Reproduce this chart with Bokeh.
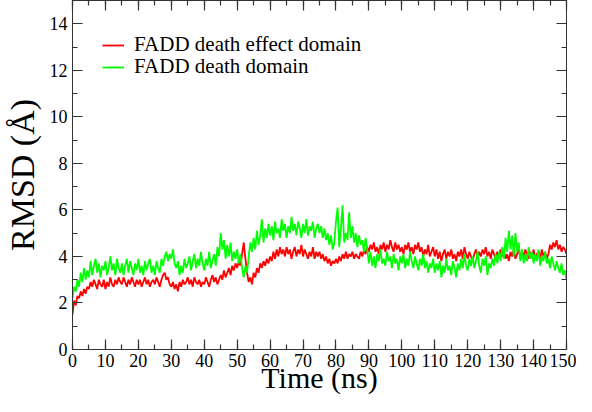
from bokeh.plotting import figure
from bokeh.models import LinearAxis, SingleIntervalTicker, Legend, LegendItem
from bokeh.embed import file_html
from bokeh.resources import INLINE

# Sampling step of the trajectory (ns); 301 frames from 0 to 150 ns
step_ns = 0.5

# FADD death effect domain (red), one row = 5 ns
rmsd_ded = [
    1.5, 2.1, 1.9, 2.3, 2.2, 2.5, 2.3, 2.6, 2.4, 2.7,
    2.6, 2.9, 2.7, 3.0, 2.8, 2.6, 3.0, 2.8, 2.7, 3.0,
    2.6, 2.9, 2.7, 3.1, 2.8, 2.7, 3.0, 2.8, 3.1, 2.9,
    2.8, 3.1, 2.9, 2.7, 3.0, 2.8, 3.1, 2.9, 2.7, 3.0,
    2.8, 3.0, 2.7, 2.9, 3.1, 2.8, 3.0, 2.7, 2.9, 3.0,
    2.8, 3.1, 2.9, 2.7, 3.0, 3.2, 3.3, 3.0, 3.1, 2.8,
    2.7, 2.9, 2.6, 2.8, 2.5, 2.9, 2.7, 3.0, 2.8, 2.9,
    3.1, 2.8, 3.0, 2.7, 3.1, 2.9, 2.8, 3.0, 2.7, 2.9,
    2.8, 3.1, 2.9, 2.7, 3.0, 3.2, 2.9, 3.1, 2.8, 3.0,
    3.2, 3.0, 3.4, 3.1, 3.3, 3.5, 3.2, 3.6, 3.4, 3.7,
    3.5, 3.8, 3.6, 4.1, 4.6, 3.9, 3.3, 2.9, 3.1, 2.8,
    3.3, 3.1, 3.5, 3.3, 3.7, 3.5, 3.8, 3.6, 3.9, 3.7,
    4.0, 3.8, 4.2, 3.9, 4.3, 4.0, 4.4, 4.1, 4.3, 4.0,
    4.4, 4.1, 4.3, 3.9, 4.2, 4.4, 4.0, 4.3, 4.1, 4.5,
    4.0, 4.3, 4.1, 3.9, 4.2, 4.0, 4.4, 3.9, 4.2, 4.0,
    4.2, 3.9, 4.1, 3.8, 4.0, 3.7, 3.9, 3.6, 3.8, 3.7,
    3.9, 3.7, 4.0, 3.8, 4.1, 3.9, 4.2, 3.9, 4.1, 4.0,
    4.2, 3.9, 4.1, 4.0, 3.9, 4.2, 4.0, 4.3, 4.1, 4.4,
    4.2, 4.5, 4.3, 4.6, 4.2, 4.4, 4.1, 4.5, 4.3, 4.6,
    4.2, 4.5, 4.3, 4.7, 4.4, 4.2, 4.6, 4.3, 4.5, 4.2,
    4.4, 4.1, 4.5, 4.3, 4.6, 4.2, 4.4, 4.1, 4.5, 4.3,
    4.6, 4.2, 4.4, 4.0, 4.3, 4.1, 4.5, 4.0, 4.2, 4.4,
    4.0, 4.3, 3.9, 4.2, 3.8, 4.1, 4.3, 3.9, 4.2, 4.0,
    4.3, 3.9, 4.1, 3.8, 4.2, 4.0, 4.3, 3.9, 4.4, 4.1,
    3.9, 4.2, 4.0, 3.8, 4.1, 4.3, 3.9, 4.2, 4.0, 4.3,
    4.1, 4.4, 4.0, 4.2, 3.9, 4.3, 4.1, 3.9, 4.2, 4.0,
    4.3, 4.0, 4.2, 3.9, 4.1, 3.8, 4.2, 4.0, 4.3, 3.9,
    4.1, 4.3, 3.9, 4.2, 4.0, 4.3, 4.1, 3.9, 4.2, 4.0,
    4.3, 3.9, 4.1, 4.2, 3.9, 4.3, 4.0, 4.2, 3.9, 4.1,
    4.5, 4.3, 4.6, 4.4, 4.7, 4.3, 4.5, 4.2, 4.4, 4.3,
    4.1,
]

# FADD death domain (green), one row = 5 ns
rmsd_dd = [
    2.2, 2.7, 2.5, 3.0, 2.7, 3.3, 2.9, 3.5, 3.0, 3.4,
    3.1, 3.8, 3.2, 3.6, 3.9, 3.3, 3.7, 3.1, 3.6, 3.4,
    3.8, 3.2, 3.5, 4.0, 3.4, 3.7, 3.2, 3.9, 3.5, 3.3,
    3.7, 3.2, 3.6, 3.9, 3.3, 3.8, 3.5, 3.2, 3.7, 3.4,
    3.9, 3.3, 3.6, 3.2, 3.8, 3.4, 3.7, 3.9, 3.3, 3.6,
    3.2, 3.8, 3.5, 3.3, 3.9, 3.6, 4.0, 4.2, 3.8, 4.1,
    3.9, 4.3, 3.7, 3.5, 3.8, 3.2, 3.6, 3.3, 3.9, 3.5,
    3.7, 4.0, 3.4, 3.8, 4.1, 3.5, 3.9, 3.6, 4.2, 3.7,
    3.4, 3.9, 3.6, 4.2, 3.5, 3.8, 4.1, 3.6, 4.4, 4.0,
    5.0, 4.3, 4.7, 3.9, 4.5, 4.0, 4.6, 3.8, 4.2, 3.9,
    4.3, 3.7, 4.1, 3.5, 3.1, 3.6, 3.3, 4.0, 4.6, 4.2,
    4.8, 4.3, 5.1, 4.5, 4.9, 5.6, 4.6, 5.2, 4.8, 5.4,
    4.9, 5.3, 4.7, 5.5, 5.0, 5.2, 4.8, 5.6, 5.1, 5.4,
    4.8, 5.3, 5.0, 5.7, 5.1, 5.4, 4.9, 5.5, 5.2, 4.8,
    5.4, 5.0, 5.6, 4.9, 5.3, 5.1, 5.5, 4.8, 5.2, 5.4,
    5.0, 5.3, 4.8, 5.2, 4.7, 5.0, 4.5, 4.9, 4.3, 4.6,
    5.5, 6.1, 4.4, 5.2, 6.2, 4.6, 5.0, 4.7, 5.9, 4.8,
    5.3, 4.6, 5.0, 4.4, 4.9, 4.5, 4.7, 4.2, 4.8, 4.3,
    3.7, 4.2, 3.6, 4.0, 3.5, 4.1, 3.8, 4.3, 3.7, 3.9,
    3.6, 4.2, 3.8, 4.0, 3.5, 4.1, 3.7, 3.9, 3.4, 4.0,
    3.7, 4.1, 3.5, 3.9, 3.6, 4.2, 3.8, 3.5, 4.0, 3.7,
    3.4, 3.9, 3.6, 4.1, 3.5, 3.8, 3.3, 3.7, 3.5, 3.9,
    3.3, 3.7, 3.4, 3.8, 3.1, 3.6, 3.3, 3.9, 3.4, 3.6,
    3.2, 3.8, 3.5, 3.1, 3.7, 3.4, 3.9, 3.5, 4.1, 3.6,
    3.4, 3.9, 3.6, 4.0, 3.5, 3.8, 4.2, 3.6, 3.3, 3.9,
    3.6, 4.0, 3.2, 3.7, 3.5, 3.9, 3.6, 4.1, 3.7, 4.2,
    3.8, 4.4, 3.9, 4.8, 4.2, 5.1, 4.3, 4.9, 4.0, 5.0,
    4.2, 4.6, 3.8, 4.3, 3.7, 4.1, 3.8, 4.4, 3.9, 4.2,
    3.7, 4.1, 3.8, 4.3, 3.6, 4.0, 3.8, 4.2, 3.7, 3.9,
    3.5, 4.0, 3.7, 3.4, 3.8, 3.5, 3.3, 3.7, 3.2, 3.4,
    3.0,
]

time_ns = [i * step_ns for i in range(len(rmsd_dd))]

series_names = ["FADD death effect domain", "FADD death domain"]
series_colors = ["#ff0000", "#00ff00"]
x_tick_values = list(range(0, 151, 10))
y_tick_values = list(range(0, 16, 2))

FONT = "Liberation Serif"

p = figure(width=576, height=396, x_range=(0, 150), y_range=(0, 15),
           output_backend="svg", toolbar_location=None,
           x_axis_label="Time (ns)", y_axis_label="RMSD (Å)",
           min_border_top=0, min_border_right=10, min_border_bottom=0,
           min_border_left=0)
p.grid.visible = False
p.outline_line_color = "#333333"
p.background_fill_color = "white"
p.border_fill_color = "white"

r1 = p.line(time_ns, rmsd_ded, line_color=series_colors[0], line_width=1.8)
r2 = p.line(time_ns, rmsd_dd, line_color=series_colors[1], line_width=1.8)

xt = SingleIntervalTicker(interval=10, num_minor_ticks=2)
yt = SingleIntervalTicker(interval=2, num_minor_ticks=2)

def style(ax):
    ax.major_tick_in = 10
    ax.major_tick_out = 0
    ax.minor_tick_in = 5
    ax.minor_tick_out = 0
    ax.axis_line_color = "#333333"
    ax.major_tick_line_color = "#333333"
    ax.minor_tick_line_color = "#333333"
    ax.major_tick_line_width = 1.2
    ax.minor_tick_line_width = 1.2
    ax.major_label_text_font = FONT
    ax.major_label_text_font_size = "18px"
    ax.major_label_text_color = "black"
    ax.axis_label_text_font = FONT
    ax.axis_label_text_font_style = "normal"
    ax.axis_label_text_color = "black"

p.xaxis.ticker = xt
p.yaxis.ticker = yt
for ax in p.xaxis:
    style(ax)
    ax.axis_label_text_font_size = "30px"
    ax.major_label_standoff = 4
    ax.axis_label_standoff = -9
for ax in p.yaxis:
    style(ax)
    ax.axis_label_text_font_size = "34px"
    ax.major_label_standoff = 5
    ax.axis_label_standoff = 6

top = LinearAxis(ticker=xt, major_label_overrides={v: "" for v in x_tick_values})
style(top)
top.major_label_standoff = 0
p.add_layout(top, "above")
right = LinearAxis(ticker=yt, major_label_overrides={v: "" for v in y_tick_values})
style(right)
right.major_label_standoff = 0
p.add_layout(right, "right")

for i, (r, loc) in enumerate([(r1, (30, 292)), (r2, (30, 270))]):
    lg = Legend(items=[LegendItem(label=series_names[i], renderers=[r])],
                location=loc, border_line_color=None,
                background_fill_alpha=0, padding=0, margin=0,
                glyph_width=22, label_standoff=10, spacing=0,
                label_text_font=FONT, label_text_font_size="21px",
                label_text_color="black")
    p.add_layout(lg, "center")

open("out.html", "w").write(file_html(p, INLINE))
